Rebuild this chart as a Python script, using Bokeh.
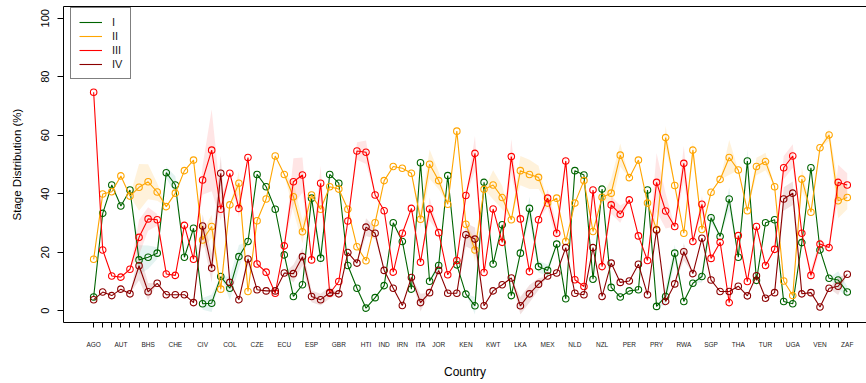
from bokeh.plotting import figure
from bokeh.models import Range1d, FixedTicker, LinearAxis, Legend, LegendItem, ColumnDataSource
from bokeh.embed import file_html
from bokeh.resources import INLINE

countries = ["AGO", "ARG", "AUS", "AUT", "BEL", "BGD", "BHS", "BRA", "CAN", "CHE", "CHL", "CHN",
             "CIV", "CMR", "COD", "COL", "CRI", "CUB", "CZE", "DEU", "DNK", "ECU", "EGY", "ERI",
             "ESP", "ETH", "FRA", "GBR", "GHA", "GTM", "HTI", "IDN", "IND", "IRL", "IRN", "ISR",
             "ITA", "JAM", "JOR", "JPN", "KAZ", "KEN", "KHM", "KOR", "KWT", "LBN", "LBY", "LKA",
             "MAR", "MDG", "MEX", "MYS", "NGA", "NLD", "NOR", "NPL", "NZL", "PAK", "PAN", "PER",
             "PHL", "POL", "PRY", "ROU", "RUS", "RWA", "SAU", "SEN", "SGP", "SRB", "SWE", "THA",
             "TTO", "TUN", "TUR", "TWN", "TZA", "UGA", "UKR", "USA", "VEN", "VNM", "YEM", "ZAF"]

shown_labels = ["AGO", "AUT", "BHS", "CHE", "CIV", "COL", "CZE", "ECU", "ESP", "GBR", "HTI", "IND",
                "IRN", "ITA", "JOR", "KEN", "KWT", "LKA", "MEX", "NLD", "NZL", "PER", "PRY", "RWA",
                "SGP", "THA", "TUR", "UGA", "VEN", "ZAF"]

stage_names = ["I", "II", "III", "IV"]

stage_I = [4.7, 33.3, 43.0, 35.8, 41.3, 17.4, 18.3, 19.7, 47.2, 43.0, 18.3, 28.2,
           2.4, 2.6, 11.7, 7.7, 18.5, 23.7, 46.6, 42.4, 34.7, 19.1, 4.9, 8.9,
           38.5, 18.0, 46.6, 43.6, 15.5, 7.7, 0.9, 4.5, 8.6, 30.1, 23.7, 7.4,
           50.6, 10.1, 15.5, 46.2, 15.7, 5.7, 1.7, 43.9, 16.0, 29.4, 5.2, 19.7,
           35.0, 15.1, 13.8, 22.8, 4.1, 47.9, 46.4, 10.8, 41.6, 8.0, 4.7, 6.8,
           7.2, 41.3, 1.5, 4.9, 19.7, 3.2, 9.4, 11.7, 31.8, 25.4, 38.2, 18.3,
           51.2, 10.4, 30.1, 31.1, 3.2, 2.4, 23.3, 48.9, 20.8, 11.1, 10.5, 6.4]

stage_II = [17.6, 39.9, 40.7, 46.1, 39.2, 42.2, 44.1, 40.6, 35.6, 40.2, 47.9, 51.5,
            24.2, 28.8, 7.4, 36.2, 43.6, 6.6, 30.8, 38.2, 52.9, 46.6, 39.0, 27.0,
            39.6, 34.7, 42.4, 41.6, 34.7, 21.9, 17.1, 30.1, 44.5, 49.3, 48.7, 47.0,
            31.3, 50.1, 44.5, 36.4, 61.4, 29.6, 20.8, 41.5, 43.0, 38.7, 31.1, 47.9,
            46.6, 45.6, 36.8, 38.5, 23.7, 36.8, 44.5, 27.1, 38.8, 40.2, 53.2, 45.5,
            51.5, 36.8, 27.8, 59.2, 42.8, 26.5, 54.9, 27.8, 40.5, 44.9, 52.4, 48.1,
            34.2, 49.3, 51.0, 42.4, 10.2, 5.2, 45.0, 33.7, 55.7, 60.1, 37.6, 38.7]

stage_III = [74.7, 20.8, 11.9, 11.5, 14.2, 25.1, 31.4, 31.1, 12.6, 12.1, 29.2, 17.6,
             44.7, 54.9, 34.7, 47.0, 35.0, 52.4, 16.0, 13.2, 6.0, 22.2, 44.1, 46.4,
             17.4, 43.6, 6.0, 10.0, 30.7, 54.6, 54.2, 39.6, 34.2, 13.2, 26.5, 35.0,
             16.6, 34.8, 26.7, 12.3, 17.2, 39.4, 53.8, 13.1, 34.8, 23.4, 52.7, 31.4,
             13.4, 31.1, 38.5, 26.5, 51.2, 10.6, 8.3, 41.3, 15.1, 36.2, 33.0, 37.9,
             25.6, 17.2, 43.9, 34.1, 28.8, 50.4, 23.7, 36.4, 17.9, 23.4, 2.8, 25.7,
             10.0, 28.8, 15.5, 21.0, 48.9, 52.9, 26.5, 12.1, 22.8, 21.6, 43.9, 43.0]

stage_IV = [3.8, 6.4, 5.2, 7.4, 5.8, 15.4, 6.5, 9.4, 5.5, 5.5, 5.5, 2.8,
            29.0, 14.6, 47.0, 9.7, 3.8, 17.7, 7.2, 6.8, 6.8, 12.9, 12.7, 18.5,
            4.9, 3.8, 6.2, 5.8, 19.9, 16.3, 28.6, 26.5, 13.8, 7.7, 1.8, 11.4,
            2.8, 6.2, 13.8, 6.0, 6.0, 26.0, 24.5, 1.7, 6.8, 8.9, 11.2, 1.7,
            5.8, 9.1, 11.9, 12.9, 21.6, 6.0, 5.5, 21.6, 4.9, 16.3, 9.7, 10.2,
            15.9, 5.5, 27.6, 3.2, 9.2, 20.2, 12.7, 24.8, 10.5, 6.6, 6.6, 8.4,
            5.1, 12.0, 4.3, 6.2, 38.2, 40.2, 5.8, 6.2, 1.3, 7.7, 8.4, 12.5]

# half-width of the uncertainty ribbon around each value
err_I = [0, 0, 0, 0, 0, 5, 4, 2, 2, 3, 0, 0,
         2, 3, 0, 4, 4, 0, 0, 0, 0, 0, 0, 0,
         0, 3, 0, 0, 0, 0, 0, 0, 0, 0, 0, 0,
         0, 0, 2, 0, 0, 0, 3, 2, 0, 0, 0, 0,
         4, 2, 2, 0, 0, 0, 0, 0, 0, 0, 0, 0,
         0, 0, 0, 3, 3, 0, 0, 2, 2, 0, 4, 0,
         4, 0, 0, 0, 0, 0, 0, 0, 0, 0, 3, 2]

err_II = [0, 0, 0, 0, 0, 8, 6, 3, 0, 0, 0, 0,
          3, 4, 2, 0, 4, 0, 0, 0, 0, 0, 5, 4,
          0, 0, 0, 0, 0, 0, 0, 0, 0, 0, 0, 0,
          3, 5, 3, 0, 0, 0, 4, 0, 5, 4, 0, 5,
          5, 4, 0, 0, 0, 0, 0, 0, 0, 5, 4, 0,
          0, 0, 0, 4, 0, 0, 3, 0, 0, 0, 6, 0,
          0, 3, 3, 0, 0, 0, 4, 0, 0, 2, 6, 4]

err_III = [0, 0, 0, 0, 0, 6, 4, 2, 0, 0, 0, 0,
           5, 14, 4, 0, 3, 0, 0, 0, 0, 0, 8, 6,
           0, 6, 0, 0, 0, 3, 4, 0, 0, 0, 0, 0,
           0, 4, 0, 0, 0, 0, 6, 0, 0, 0, 6, 0,
           0, 0, 3, 3, 2, 0, 0, 0, 0, 3, 3, 0,
           0, 0, 10, 6, 0, 6, 0, 3, 0, 0, 0, 0,
           0, 0, 0, 0, 4, 4, 0, 2, 2, 0, 6, 4]

err_IV = [0, 0, 0, 0, 0, 5, 3, 0, 0, 0, 0, 0,
          4, 5, 6, 0, 0, 2, 0, 0, 0, 0, 3, 3,
          2, 2, 2, 0, 0, 0, 3, 2, 0, 0, 0, 0,
          3, 0, 0, 0, 0, 4, 4, 0, 0, 0, 0, 3,
          3, 2, 0, 0, 0, 0, 0, 0, 0, 0, 0, 0,
          0, 0, 0, 0, 0, 3, 0, 0, 0, 0, 0, 0,
          0, 0, 0, 0, 4, 4, 0, 0, 0, 0, 3, 0]

line_colors = ["#006400", "#FFA500", "#FF0000", "#8B0000"]
band_colors = ["#1E9A8C", "#FFA500", "#FF0000", "#8B0000"]
band_alphas = [0.12, 0.14, 0.10, 0.12]

FONT = "Liberation Sans"

x = list(range(len(countries)))

p = figure(width=866, height=383, output_backend="svg", toolbar_location=None,
           x_range=Range1d(-3.32, 85.12), y_range=Range1d(-4, 104),
           x_axis_type=None, y_axis_type=None,
           min_border_left=63, min_border_right=0, min_border_top=6, min_border_bottom=61)
p.outline_line_color = None
p.background_fill_color = "white"
p.border_fill_color = "white"

series = [stage_I, stage_II, stage_III, stage_IV]
errs = [err_I, err_II, err_III, err_IV]

for vals, err, bc, ba in zip(series, errs, band_colors, band_alphas):
    src = ColumnDataSource(dict(x=x, lo=[v - e for v, e in zip(vals, err)],
                                hi=[v + e for v, e in zip(vals, err)]))
    p.varea(x="x", y1="lo", y2="hi", source=src, fill_color=bc, fill_alpha=ba)

line_renderers = []
for vals, lc in zip(series, line_colors):
    src = ColumnDataSource(dict(x=x, y=vals))
    r = p.line(x="x", y="y", source=src, line_color=lc, line_width=1.1)
    p.scatter(x="x", y="y", source=src, marker="circle", size=6.5, fill_color=None,
              line_color=lc, line_width=1.1)
    line_renderers.append(r)

# bottom axis
overrides = {i: (c if c in shown_labels else "") for i, c in enumerate(countries)}
xaxis = LinearAxis(ticker=FixedTicker(ticks=x), major_label_overrides=overrides,
                   axis_label="Country")
xaxis.major_tick_in = 0
xaxis.major_tick_out = 5
xaxis.minor_tick_line_color = None
xaxis.major_label_text_font = FONT
xaxis.major_label_text_font_size = "6.5px"
xaxis.major_label_text_color = "#222222"
xaxis.major_label_standoff = 13
xaxis.axis_label_text_font = FONT
xaxis.axis_label_text_font_size = "12px"
xaxis.axis_label_text_font_style = "normal"
xaxis.axis_label_text_color = "black"
xaxis.axis_label_standoff = 14
xaxis.axis_line_color = "black"
xaxis.major_tick_line_color = "black"
p.add_layout(xaxis, "below")

# left axis
yaxis = LinearAxis(ticker=FixedTicker(ticks=[0, 20, 40, 60, 80, 100]),
                   axis_label="Stage Distribution (%)")
yaxis.major_tick_in = 0
yaxis.major_tick_out = 6
yaxis.minor_tick_line_color = None
yaxis.major_label_orientation = "vertical"
yaxis.major_label_text_font = FONT
yaxis.major_label_text_font_size = "11px"
yaxis.major_label_text_color = "black"
yaxis.major_label_standoff = 8
yaxis.axis_label_text_font = FONT
yaxis.axis_label_text_font_size = "11.5px"
yaxis.axis_label_text_font_style = "normal"
yaxis.axis_label_text_color = "black"
yaxis.axis_label_standoff = 16
yaxis.axis_line_color = "black"
p.add_layout(yaxis, "left")

# top border of the box
top = LinearAxis(ticker=FixedTicker(ticks=[]))
top.major_tick_in = 0
top.major_tick_out = 0
top.minor_tick_line_color = None
top.major_label_text_font_size = "0px"
top.major_label_standoff = 0
top.axis_line_color = "black"
p.add_layout(top, "above")

legend = Legend(items=[LegendItem(label=n, renderers=[r]) for n, r in zip(stage_names, line_renderers)],
                location=(7, 243))
legend.border_line_color = "black"
legend.border_line_width = 1
legend.background_fill_color = "white"
legend.background_fill_alpha = 1
legend.padding = 8
legend.spacing = 2
legend.margin = 0
legend.label_height = 12
legend.label_width = 10
legend.glyph_height = 12
legend.glyph_width = 23
legend.label_standoff = 10
legend.label_text_font = FONT
legend.label_text_font_size = "11px"
legend.label_text_color = "#222222"
p.add_layout(legend)

open("out.html", "w").write(file_html(p, INLINE))
